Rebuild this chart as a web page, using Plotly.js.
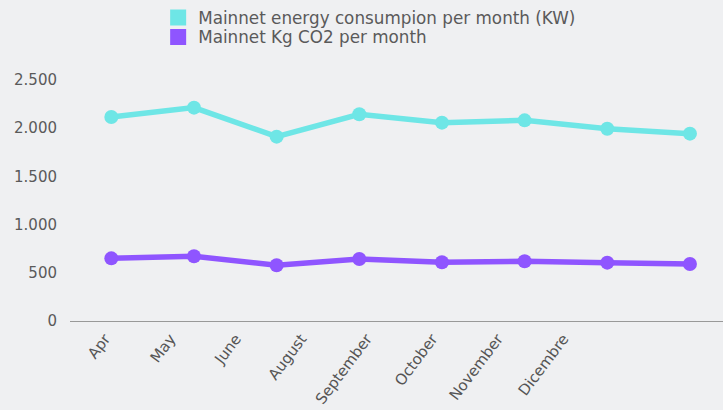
<!DOCTYPE html>
<html>
<head>
<meta charset="utf-8">
<script src="https://cdn.plot.ly/plotly-3.0.1.min.js"></script>
<style>html,body{margin:0;padding:0;background:#eff0f2;}#chart{width:723px;height:410px;}</style>
</head>
<body>
<div id="chart"></div>
<script>
const months = ["Apr", "May", "June", "August", "September", "October", "November", "Dicembre"];
const energyKW = [2116, 2213, 1912, 2144, 2057, 2081, 1994, 1943];
const co2Kg = [650, 671, 578, 643, 609, 619, 605, 591];
const seriesNames = ["Mainnet energy consumpion per month (KW)", "Mainnet Kg CO2 per month"];
const colors = ["#6ee6e6", "#8f55ff"];

const lineTrace = (y, i) => ({
  x: months, y: y, type: "scatter", mode: "lines+markers",
  line: {color: colors[i], width: 5.5},
  marker: {color: colors[i], size: 14},
  showlegend: false, hoverinfo: "x+y"
});
const legendTrace = (i, lg) => ({
  x: [null], y: [null], type: "scatter", mode: "markers",
  name: seriesNames[i], legend: lg,
  marker: {color: colors[i], size: 16, symbol: "square"}
});
// carrier for the (offset) month labels, drawn on a second category axis
const labelTrace = {
  x: months, y: months.map(() => null), type: "scatter", mode: "markers",
  xaxis: "x2", yaxis: "y", showlegend: false, hoverinfo: "skip"
};

const data = [lineTrace(energyKW, 0), lineTrace(co2Kg, 1), legendTrace(0, "legend"), legendTrace(1, "legend2"), labelTrace];

const legendBase = {
  x: 0.135, xanchor: "left", yanchor: "middle",
  orientation: "v", bgcolor: "rgba(0,0,0,0)",
  font: {size: 16.8, color: "#5a5a5a"}
};

const layout = {
  width: 723, height: 410,
  paper_bgcolor: "#eff0f2", plot_bgcolor: "rgba(0,0,0,0)",
  separators: ",.",
  font: {family: "DejaVu Sans, sans-serif", color: "#5a5a5a", size: 15},
  margin: {l: 70, r: 0, t: 60, b: 89},
  xaxis: {
    type: "category", range: [-0.5, 7.4],
    showgrid: false, zeroline: false,
    showline: true, linecolor: "#999", linewidth: 1,
    ticks: "", showticklabels: false
  },
  xaxis2: {
    type: "category", categoryarray: months, range: [-0.5, 7.5],
    domain: [0.0034, 0.8055], anchor: "y",
    showgrid: false, zeroline: false, showline: false,
    ticks: "", tickangle: -53, ticklabelstandoff: 5,
    tickfont: {size: 15, color: "#555"}
  },
  yaxis: {
    range: [0, 2707], tickvals: [0, 500, 1000, 1500, 2000, 2500],
    tickformat: ",d",
    showgrid: false, zeroline: false, showline: false,
    ticks: "", ticklen: 0, ticklabelstandoff: 12,
    tickfont: {size: 15, color: "#5a5a5a"}
  },
  legend: Object.assign({}, legendBase, {y: 1.1648}),
  legend2: Object.assign({}, legendBase, {y: 1.0881}),
  showlegend: true
};

Plotly.newPlot("chart", data, layout, {displayModeBar: false, staticPlot: true});
</script>
</body>
</html>
